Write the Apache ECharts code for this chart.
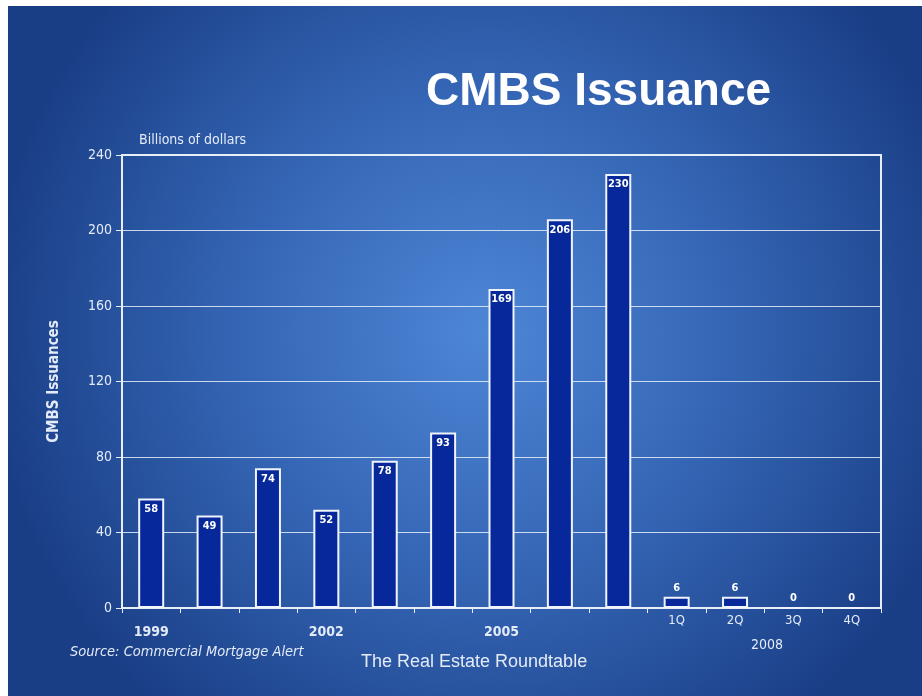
<!DOCTYPE html>
<html>
<head>
<meta charset="utf-8">
<script src="https://cdn.jsdelivr.net/npm/echarts@6/dist/echarts.min.js"></script>
<style>
  html, body { margin: 0; padding: 0; background: #fff; }
  #main { width: 922px; height: 696px; }
</style>
</head>
<body>
<div id="main"></div>
<script>
// categories: years then 2008 quarters
const CATS = ['1999','2000','2001','2002','2003','2004','2005','2006','2007','1Q','2Q','3Q','4Q'];
const SHOWN = ['1999','2002','2005','1Q','2Q','3Q','4Q'];
const VALUES = [58, 49, 74, 52, 78, 93, 169, 206, 230, 6, 6, 0, 0];
const Y_TICKS = [0, 40, 80, 120, 160, 200, 240];

const FONT = "'DejaVu Sans Condensed', 'DejaVu Sans', sans-serif";
const TXT = '#e4ebf8';

const chart = echarts.init(document.getElementById('main'), null, { renderer: 'canvas' });

const data = VALUES.map(v => ({
  value: v,
  label: {
    position: v < 20 ? 'top' : 'insideTop',
    distance: v < 20 ? 3 : 5
  }
}));

chart.setOption({
  backgroundColor: '#ffffff',
  animation: false,
  graphic: [
    {
      type: 'rect', z: -10, silent: true,
      shape: { x: 8, y: 6, width: 914, height: 690 },
      style: {
        fill: {
          type: 'radial', x: 0.52, y: 0.47, r: 0.72,
          colorStops: [
            { offset: 0, color: '#4e86d6' },
            { offset: 0.5, color: '#3465b4' },
            { offset: 1, color: '#1a3e86' }
          ]
        }
      }
    },
    {
      type: 'text', left: 426, top: 69, silent: true,
      style: { text: 'CMBS Issuance', fill: '#ffffff', font: "bold 46px 'Liberation Sans', Arial, sans-serif" }
    },
    {
      type: 'text', left: 139, top: 133, silent: true,
      style: { text: 'Billions of dollars', fill: TXT, font: '14px ' + FONT }
    },
    {
      type: 'text', left: 751, top: 638, silent: true,
      style: { text: '2008', fill: TXT, font: '14px ' + FONT }
    },
    {
      type: 'text', left: 70, top: 645, silent: true,
      style: { text: 'Source: Commercial Mortgage Alert', fill: TXT, font: 'italic 14.5px ' + FONT }
    },
    {
      type: 'text', left: 361, top: 653, silent: true,
      style: { text: 'The Real Estate Roundtable', fill: TXT, font: "18px 'Liberation Sans', Arial, sans-serif" }
    }
  ],
  grid: {
    left: 122, right: 41, top: 155, bottom: 88,
    show: true, borderColor: '#e8eef8', borderWidth: 2, backgroundColor: 'transparent'
  },
  xAxis: {
    type: 'category',
    data: CATS,
    axisLine: { lineStyle: { color: '#e8eef8', width: 2 } },
    axisTick: { show: true, length: 5, lineStyle: { color: '#e8eef8' } },
    axisLabel: {
      interval: 0,
      margin: 6,
      formatter: v => {
        if (SHOWN.indexOf(v) < 0) return '';
        return v.indexOf('Q') > 0 ? '{q|' + v + '}' : '{y|' + v + '}';
      },
      rich: {
        y: { color: TXT, fontFamily: FONT, fontSize: 14, fontWeight: 'bold', padding: [11, 0, 0, 0] },
        q: { color: TXT, fontFamily: FONT, fontSize: 13 }
      }
    }
  },
  yAxis: {
    type: 'value',
    min: 0, max: 240, interval: 40,
    name: 'CMBS Issuances',
    nameLocation: 'middle',
    nameGap: 60,
    nameRotate: 90,
    nameTextStyle: { color: TXT, fontFamily: FONT, fontSize: 15, fontWeight: 'bold' },
    axisLine: { show: true, lineStyle: { color: '#e8eef8', width: 2 } },
    axisTick: { show: true, length: 6, lineStyle: { color: '#e8eef8' } },
    axisLabel: {
      margin: 10,
      color: TXT, fontFamily: FONT, fontSize: 14,
      formatter: v => Y_TICKS.indexOf(v) >= 0 ? String(v) : ''
    },
    splitLine: { lineStyle: { color: 'rgba(230,238,250,0.85)', width: 1 } }
  },
  series: [{
    type: 'bar',
    data,
    barWidth: 26,
    itemStyle: { color: '#06289a', borderColor: '#f0f4fc', borderWidth: 2 },
    label: {
      show: true,
      color: '#ffffff',
      fontFamily: FONT,
      fontSize: 11,
      fontWeight: 'bold'
    }
  }]
});
</script>
</body>
</html>
